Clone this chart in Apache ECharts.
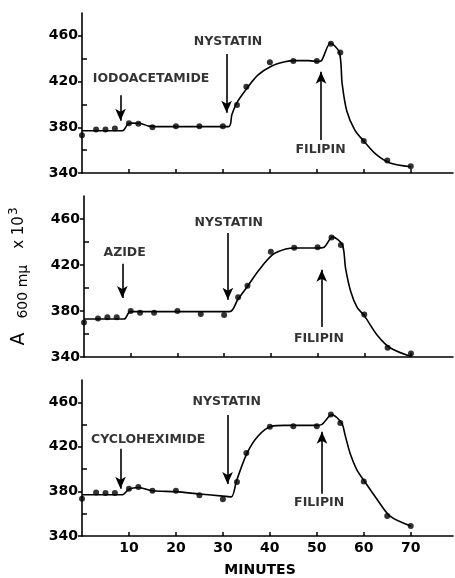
<!DOCTYPE html>
<html>
<head>
<meta charset="utf-8">
<script src="https://cdn.jsdelivr.net/npm/echarts@6/dist/echarts.min.js"></script>
<style>
html,body{margin:0;padding:0;background:#fff;}
#c{width:455px;height:578px;}
</style>
</head>
<body>
<div id="c"></div>
<script>
// ---- data ----
const minutes = [0, 3, 5, 7, 10, 12, 15, 20, 25, 30, 33, 35, 40, 45, 50, 53, 55, 60, 65, 70];
const iodoacetamideA = [373, 378, 378, 379, 383.5, 383, 380, 381, 381, 381, 399.5, 415.5, 437, 438, 438, 453, 445.5, 368, 351, 346];
const azideA = [370, 373.5, 374.5, 374.5, 380, 378.5, 378.5, 380, 377.5, 376.5, 392, 402, 431.5, 435, 435.5, 444, 437.5, 377, 348, 343];
const cycloheximideA = [373.5, 379, 378.5, 378.5, 382.5, 384, 380.5, 380.5, 376.5, 373, 388.5, 414.5, 438, 438.5, 438.5, 449, 441.5, 389, 358, 349];

// hand-drawn fitted curves [minutes, A]
const iodoacetamideCurve = [[0,377],[8.6,377],[9.8,383],[10.8,383.6],[12.5,383.3],[14.2,381],[15.8,380.6],[31.2,380.6],[31.9,390.8],[32.9,401],[35.1,414],[37.5,425.8],[40.4,433.7],[43.2,437.4],[45.3,438.3],[48.2,438.3],[50.3,437.5],[51,438.2],[52.9,453.5],[54.8,445.5],[55.4,418],[56.4,394],[58.1,377.6],[60,368],[62.7,356],[65.6,348.8],[70,345.5]];
const azideCurve = [[0,373],[8.6,373],[9.9,379.5],[31.2,379.5],[32.9,389.8],[35.1,402],[37.5,415.9],[40.4,429],[43.2,433.9],[45.3,434.8],[50,434.8],[51.3,435.2],[53.2,444.5],[55.3,437.7],[56,417],[57.1,397],[58.5,383],[60,376],[62.7,359.4],[65.6,347.8],[70,340.5]];
const cycloheximideCurve = [[0,377],[8.6,377],[10,382],[12,383.5],[15,380.6],[20,379.8],[25,377.7],[30,375.8],[31.8,375.1],[32.9,389.5],[35.1,414],[37.5,429.8],[40.4,438.5],[43.2,439.3],[50,439.3],[51,439.9],[53.2,448.8],[55.3,441.3],[56,431],[57.1,414],[58.5,399.6],[60,390],[62.7,373.7],[65.6,357.8],[70,349]];

// annotations: [text, minutes, A]
const labels1 = [['IODOACETAMIDE', 14.7, 422.5], ['NYSTATIN', 31.1, 454.7], ['FILIPIN', 50.8, 360.4]];
const labels2 = [['AZIDE', 8.7, 430.4], ['NYSTATIN', 31.0, 457], ['FILIPIN', 50.3, 355.6]];
const labels3 = [['CYCLOHEXIMIDE', 14.1, 426], ['NYSTATIN', 30.8, 460.1], ['FILIPIN', 50.5, 369.4]];
// arrows: [minutes, A tail, A head]
const arrows1 = [[8.2, 408, 385.8], [30.8, 444.2, 392.8], [50.9, 368.9, 428.7]];
const arrows2 = [[8.2, 421.1, 391.3], [30.8, 447.8, 389.8], [50.9, 366, 415.9]];
const arrows3 = [[8.2, 418.3, 382.3], [31.0, 448.5, 386.6], [51.1, 378, 433.6]];

const xTicks = [10, 20, 30, 40, 50, 60, 70];
const yMajor = [340, 380, 420, 460];
const yMinor = [360, 400, 440];

// ---- chart ----
const FONT = 'DejaVu Sans';
const INK = '#000';
const panels = [
  {vals: iodoacetamideA, curve: iodoacetamideCurve, labels: labels1, arrows: arrows1, top: 13, height: 160},
  {vals: azideA, curve: azideCurve, labels: labels2, arrows: arrows2, top: 196, height: 161},
  {vals: cycloheximideA, curve: cycloheximideCurve, labels: labels3, arrows: arrows3, top: 380, height: 162}
];

const grid = [], xAxis = [], yAxis = [], series = [];
panels.forEach((p, i) => {
  grid.push({left: 82, right: 2, top: p.top, height: p.height});
  const last = i === panels.length - 1;
  xAxis.push({
    type: 'value', gridIndex: i, min: 0, max: 79,
    axisLine: {show: true, lineStyle: {color: INK, width: 1.6}},
    axisTick: {show: true, inside: true, length: 4, customValues: xTicks, lineStyle: {color: INK, width: 1.5}},
    axisLabel: {show: last, customValues: xTicks, color: INK, fontFamily: FONT, fontWeight: 'bold', fontSize: 14, margin: 5},
    splitLine: {show: false},
    name: last ? 'MINUTES' : '', nameLocation: 'middle', nameGap: 27,
    nameTextStyle: {color: INK, fontFamily: FONT, fontWeight: 'bold', fontSize: 14, padding: [0, 15, 0, 0]}
  });
  yAxis.push({
    type: 'value', gridIndex: i, min: 340, max: 480,
    axisLine: {show: true, lineStyle: {color: INK, width: 1.6}},
    axisTick: {show: true, inside: false, length: 4, customValues: yMajor, lineStyle: {color: INK, width: 1.5}},
    axisLabel: {show: true, customValues: yMajor, color: INK, fontFamily: FONT, fontWeight: 'bold', fontSize: 14, margin: 4},
    splitLine: {show: false},
    name: i === 1 ? '{a|A}{s|600 mμ}{n|x 10}{p|3}' : '',
    nameLocation: 'middle', nameRotate: 90, nameGap: 54,
    nameTextStyle: {
      color: INK, fontFamily: FONT,
      rich: {
        a: {fontSize: 19, fontFamily: FONT, color: INK, lineHeight: 22, verticalAlign: 'middle', padding: [0, 14, 0, 0]},
        s: {fontSize: 14, fontFamily: FONT, color: INK, lineHeight: 22, verticalAlign: 'bottom', padding: [0, 16, 0, 0]},
        n: {fontSize: 15, fontFamily: FONT, color: INK, lineHeight: 22, verticalAlign: 'middle'},
        p: {fontSize: 12, fontFamily: FONT, color: INK, lineHeight: 22, verticalAlign: 'top', padding: [0, 0, 0, 1]}
      }
    }
  });
  yAxis.push({
    type: 'value', gridIndex: i, min: 340, max: 480, position: 'left',
    axisLine: {show: false},
    axisTick: {show: true, inside: true, length: 5, customValues: yMinor, lineStyle: {color: INK, width: 1.5}},
    axisLabel: {show: false},
    splitLine: {show: false}
  });
  const yIdx = i * 2;
  series.push({
    type: 'line', xAxisIndex: i, yAxisIndex: yIdx, data: p.curve,
    showSymbol: false, smooth: 0.3,
    lineStyle: {color: INK, width: 1.6}, z: 2
  });
  series.push({
    type: 'scatter', xAxisIndex: i, yAxisIndex: yIdx,
    data: minutes.map((m, k) => [m, p.vals[k]]),
    symbolSize: 6, itemStyle: {color: INK}, z: 3
  });
  series.push({
    type: 'scatter', xAxisIndex: i, yAxisIndex: yIdx,
    data: p.labels.map(l => ({name: l[0], value: [l[1], l[2]]})),
    symbolSize: 0,
    label: {show: true, position: [0, 0], align: 'center', verticalAlign: 'middle', formatter: '{b}',
            color: INK, textBorderWidth: 0, fontFamily: FONT, fontWeight: 'bold', fontSize: 12.5},
    markLine: {
      silent: true, symbol: ['none', 'arrow'], symbolSize: [8, 12],
      lineStyle: {color: INK, width: 1.6, type: 'solid'},
      label: {show: false},
      data: p.arrows.map(a => [{coord: [a[0], a[1]]}, {coord: [a[0], a[2]]}])
    },
    z: 4
  });
});

const chart = echarts.init(document.getElementById('c'), null, {renderer: 'canvas'});
chart.setOption({
  animation: false,
  backgroundColor: '#fff',
  textStyle: {fontFamily: FONT},
  grid, xAxis, yAxis, series
});
</script>
</body>
</html>
